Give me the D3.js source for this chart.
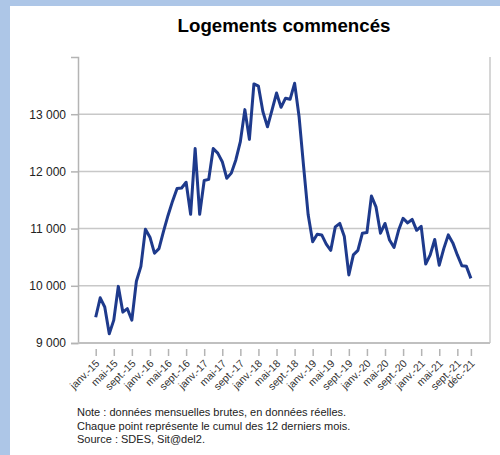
<!DOCTYPE html>
<html>
<head>
<meta charset="utf-8">
<script src="https://cdn.jsdelivr.net/npm/d3@7"></script>
<style>
  body { margin: 0; background: #fff; }
  svg { display: block; font-family: "Liberation Sans", Arial, sans-serif; }
</style>
</head>
<body>
<svg id="chart" width="500" height="455"></svg>
<script>
// Données : logements commencés, cumul sur 12 mois (janv. 2015 à déc. 2021)
const moisNoms = ["janv.", "févr.", "mars", "avr.", "mai", "juin", "juil.", "août", "sept.", "oct.", "nov.", "déc."];
const annees = ["15", "16", "17", "18", "19", "20", "21"];

const valeurs = [
  9450, 9790, 9630, 9160, 9400, 9990, 9540, 9600, 9400, 10080, 10340, 10990,
  10850, 10570, 10650, 10950, 11230, 11480, 11700, 11710, 11810, 11250, 12400, 11250,
  11840, 11860, 12400, 12320, 12170, 11880, 11970, 12200, 12520, 13080, 12560, 13530,
  13490, 13040, 12780, 13070, 13370, 13120, 13280, 13260, 13540, 12950, 12080, 11240,
  10770, 10900, 10890, 10730, 10620, 11030, 11090, 10860, 10190, 10540, 10620, 10920,
  10930, 11570, 11380, 10920, 11090, 10800, 10670, 10970, 11180, 11100, 11160, 10970,
  11040, 10380, 10540, 10810, 10360, 10650, 10890, 10750, 10540, 10350, 10340, 10130
];

const ticksX = [
  "janv.-15", "mai-15", "sept.-15", "janv.-16", "mai-16", "sept.-16",
  "janv.-17", "mai-17", "sept.-17", "janv.-18", "mai-18", "sept.-18",
  "janv.-19", "mai-19", "sept.-19", "janv.-20", "mai-20", "sept.-20",
  "janv.-21", "mai-21", "sept.-21", "déc.-21"
];
const ticksY = [9000, 10000, 11000, 12000, 13000];

const notes = [
  "Note : données mensuelles brutes, en données réelles.",
  "Chaque point représente le cumul des 12 derniers mois.",
  "Source : SDES, Sit@del2."
];

// une catégorie par mois
const mois = [];
annees.forEach(a => moisNoms.forEach(m => mois.push(m + "-" + a)));

const svg = d3.select("#chart");

// cadre bleu (haut et gauche)
svg.append("rect").attr("x", 0).attr("y", 0).attr("width", 500).attr("height", 6).attr("fill", "#adc6e7");
svg.append("rect").attr("x", 0).attr("y", 0).attr("width", 10).attr("height", 455).attr("fill", "#adc6e7");

svg.append("text")
  .attr("x", 284).attr("y", 32)
  .attr("text-anchor", "middle")
  .attr("font-size", 18.7).attr("font-weight", "bold")
  .attr("fill", "#000")
  .text("Logements commencés");

const gauche = 78, droite = 490, haut = 57, bas = 343;

const x = d3.scalePoint().domain(mois).range([95.7, 470.9]);
const y = d3.scaleLinear().domain([9000, 14000]).range([bas, haut]);

const fr = d3.formatLocale({ decimal: ",", thousands: "\u00a0", grouping: [3], currency: ["", " €"] });
const fmt = fr.format(",d");

// grille
svg.append("g")
  .selectAll("line")
  .data(ticksY.slice(1))
  .enter().append("line")
  .attr("x1", gauche).attr("x2", droite)
  .attr("y1", d => y(d)).attr("y2", d => y(d))
  .attr("stroke", "#c8c8c8").attr("stroke-width", 1.5);

// bord droit
svg.append("line").attr("x1", droite).attr("x2", droite).attr("y1", haut).attr("y2", bas)
  .attr("stroke", "#c8c8c8").attr("stroke-width", 1.5);

// axe Y
const axeY = svg.append("g")
  .attr("transform", `translate(${gauche},0)`)
  .call(d3.axisLeft(y).tickValues(ticksY).tickFormat(fmt).tickSize(7).tickPadding(5));
axeY.select(".domain").attr("stroke", "#b4b4b4").attr("stroke-width", 1.5);
axeY.selectAll(".tick line").attr("stroke", "#b4b4b4").attr("stroke-width", 1.5);
axeY.selectAll("text").attr("font-size", 12).attr("fill", "#222")
  .attr("font-family", "Liberation Sans, Arial, sans-serif");

// axe X
svg.append("line").attr("x1", gauche).attr("x2", droite).attr("y1", bas).attr("y2", bas)
  .attr("stroke", "#c0c0c0").attr("stroke-width", 2);

const axeX = svg.append("g")
  .attr("transform", `translate(0,${bas + 6})`)
  .call(d3.axisBottom(x).tickValues(ticksX).tickSize(7).tickFormat(d => d));
axeX.select(".domain").remove();
axeX.selectAll(".tick line").attr("stroke", "#b4b4b4").attr("stroke-width", 1.5);
axeX.selectAll("text")
  .attr("font-size", 10.5).attr("fill", "#333")
  .attr("font-family", "Liberation Sans, Arial, sans-serif")
  .attr("text-anchor", "end")
  .attr("y", 0).attr("dy", 0)
  .attr("transform", "translate(4,15) rotate(-45)");

// courbe
const ligne = d3.line()
  .x((d, i) => x(mois[i]))
  .y(d => y(d));

svg.append("path")
  .datum(valeurs)
  .attr("d", ligne)
  .attr("fill", "none")
  .attr("stroke", "#1e3a8c")
  .attr("stroke-width", 3)
  .attr("stroke-linejoin", "round");

// notes
svg.append("g")
  .selectAll("text")
  .data(notes)
  .enter().append("text")
  .attr("x", 77)
  .attr("y", (d, i) => 416 + i * 13.5)
  .attr("font-size", 11)
  .attr("fill", "#222")
  .text(d => d);
</script>
</body>
</html>
